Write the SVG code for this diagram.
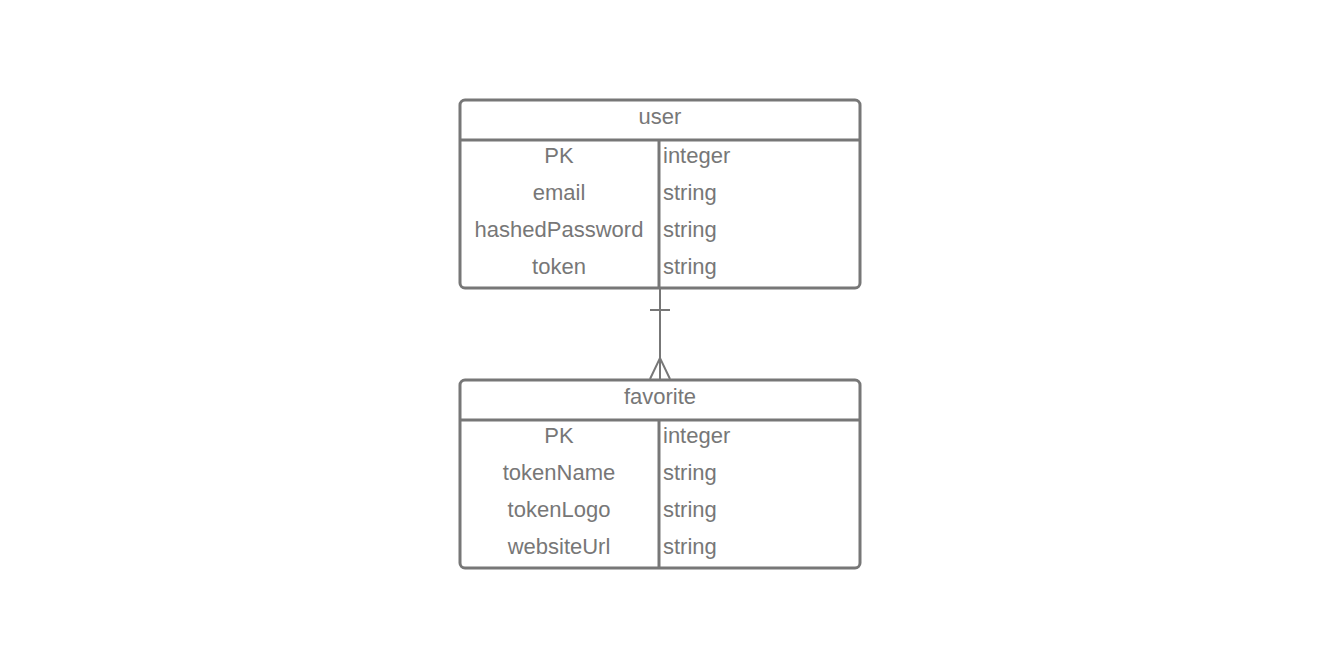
<svg xmlns="http://www.w3.org/2000/svg" width="1320" height="660" viewBox="0 0 1320 660">
<style>
.box{fill:#fff;stroke:#777;stroke-width:3}
.ln{stroke:#777;stroke-width:3;fill:none}
.cn{stroke:#777;stroke-width:2;fill:none}
text{font-family:"Liberation Sans",Arial,sans-serif;font-size:22px;fill:#777}
.c{text-anchor:middle}
</style>
<rect width="1320" height="660" fill="#fff"/>
<g id="user">
<rect class="box" x="460" y="100" width="400" height="188" rx="5"/>
<line class="ln" x1="460" y1="140" x2="860" y2="140"/>
<line class="ln" x1="659" y1="140" x2="659" y2="288"/>
<text class="c" x="660" y="124">user</text>
<text class="c" x="559" y="163">PK</text>
<text class="c" x="559" y="200">email</text>
<text class="c" x="559" y="237">hashedPassword</text>
<text class="c" x="559" y="274">token</text>
<text x="663" y="163">integer</text>
<text x="663" y="200">string</text>
<text x="663" y="237">string</text>
<text x="663" y="274">string</text>
</g>
<g id="favorite">
<rect class="box" x="460" y="380" width="400" height="188" rx="5"/>
<line class="ln" x1="460" y1="420" x2="860" y2="420"/>
<line class="ln" x1="659" y1="420" x2="659" y2="568"/>
<text class="c" x="660" y="404">favorite</text>
<text class="c" x="559" y="443">PK</text>
<text class="c" x="559" y="480">tokenName</text>
<text class="c" x="559" y="517">tokenLogo</text>
<text class="c" x="559" y="554">websiteUrl</text>
<text x="663" y="443">integer</text>
<text x="663" y="480">string</text>
<text x="663" y="517">string</text>
<text x="663" y="554">string</text>
</g>
<g id="connectors">
<line class="cn" x1="660" y1="289" x2="660" y2="379"/>
<line class="cn" x1="650" y1="310" x2="670" y2="310"/>
<polyline class="cn" points="650,379 660,358 670,379"/>
</g>
</svg>
